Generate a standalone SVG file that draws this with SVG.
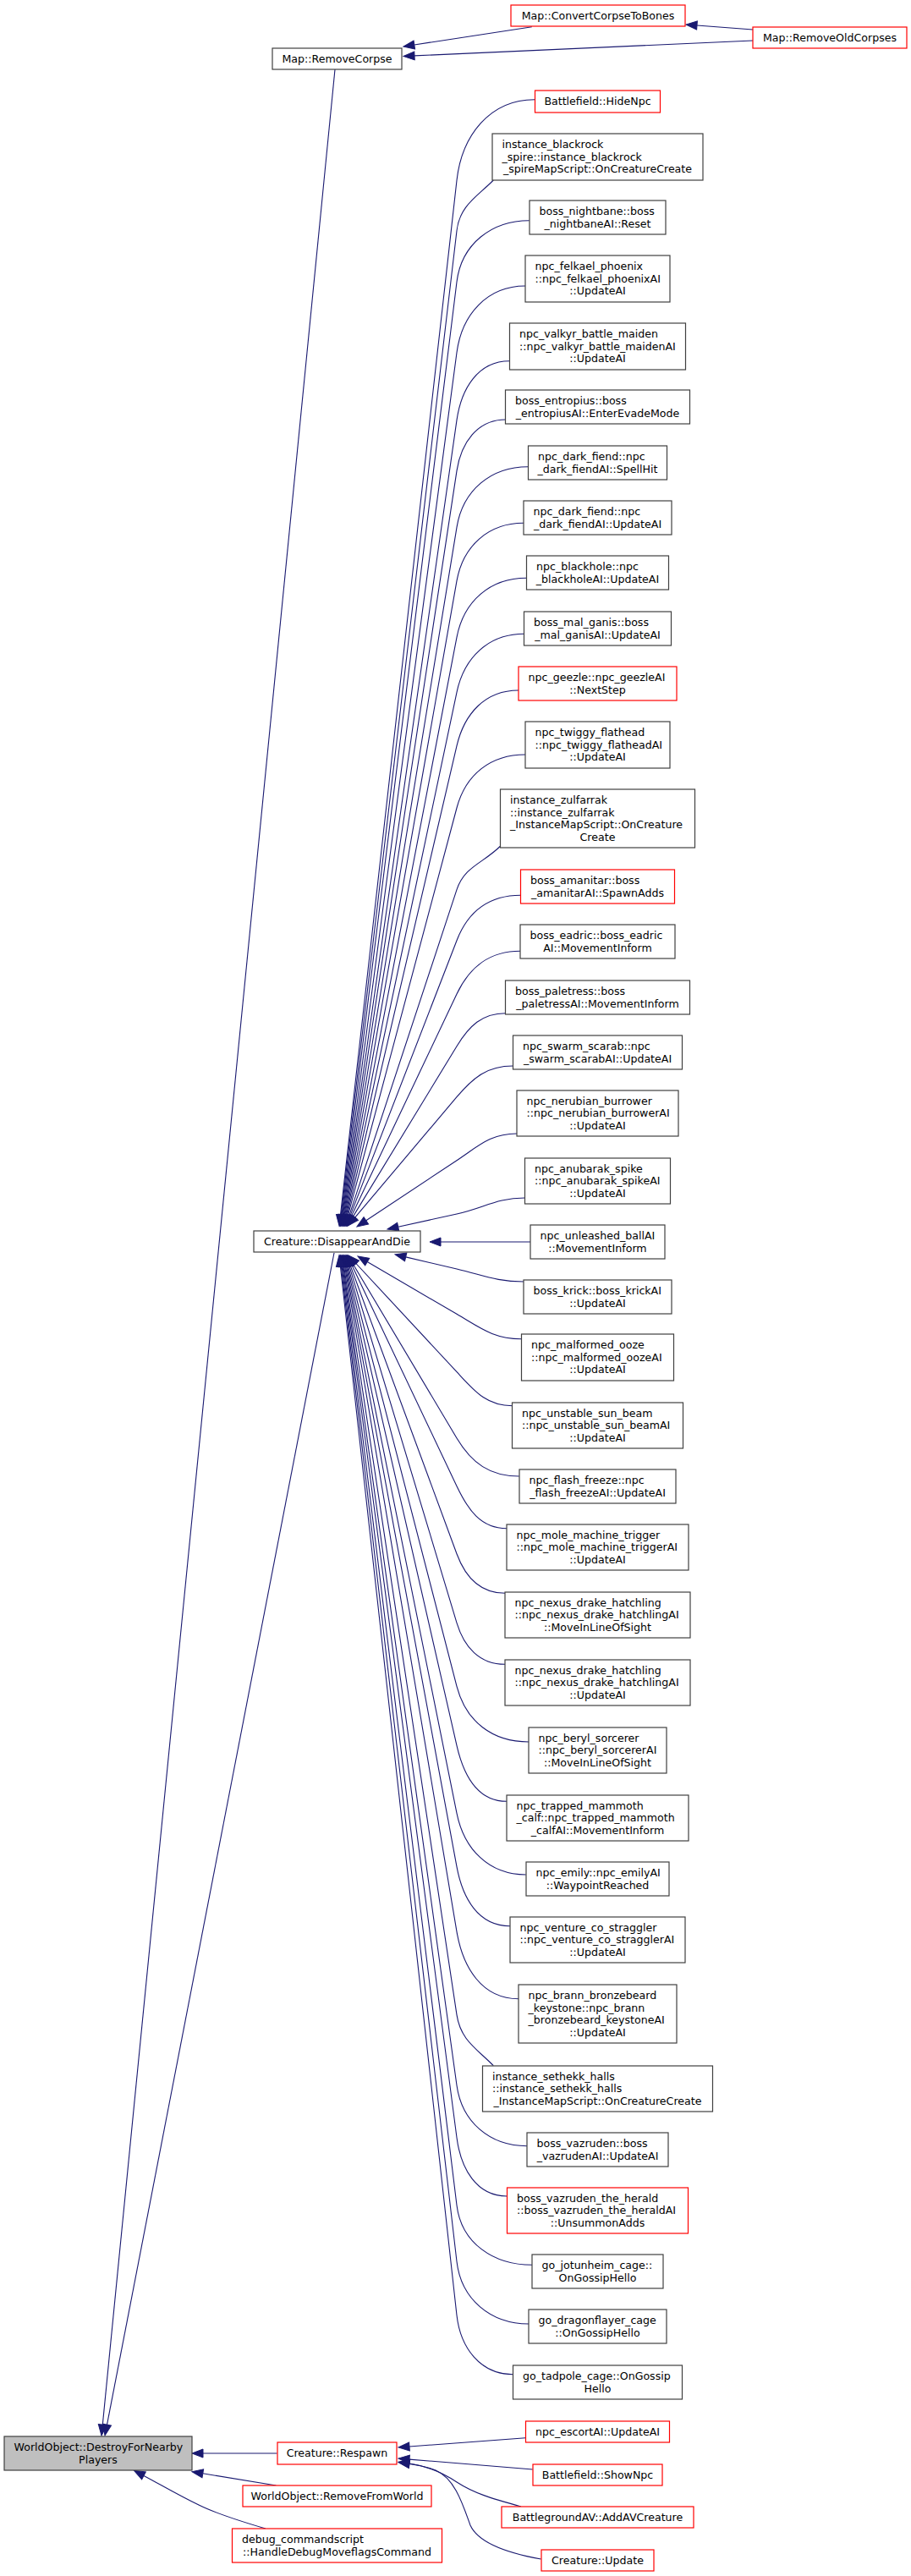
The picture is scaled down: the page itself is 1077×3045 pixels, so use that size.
<svg xmlns="http://www.w3.org/2000/svg" width="1077" height="3045" viewBox="0 0 1077 3045">
<style>
.nb{fill:#fff;stroke:#404040;stroke-width:1.2}
.nr{fill:#fff;stroke:#ff0000;stroke-width:1.2}
.ng{fill:#bfbfbf;stroke:#404040;stroke-width:1.2}
text{font-family:"DejaVu Sans",sans-serif;font-size:12.6px;fill:#000}
.c{text-anchor:middle}
#edges path{fill:none;stroke:#191970;stroke-width:1.1;marker-end:url(#ah)}
</style>
<defs>
<marker id="ah" markerWidth="13" markerHeight="10" refX="0" refY="5" orient="auto" markerUnits="userSpaceOnUse" viewBox="0 0 13 10" overflow="visible"><path d="M0,0 L13,5 L0,10 z" fill="#191970" stroke="#191970" stroke-width="1"/></marker>
</defs>
<rect x="0" y="0" width="1077" height="3045" fill="#fff"/>
<g id="edges">
<path d="M628.8,31.7 L489.8,53"/>
<path d="M890,48 L490,65.9"/>
<path d="M890,35 L824,30"/>
<path d="M396,82 L121.3,2866.1"/>
<path d="M395,1481 L126.5,2866.2"/>
<path d="M327.5,2900 L240,2900"/>
<path d="M326.4,2938 L239.8,2923.8"/>
<path d="M314,2989 C280,2979 255,2971 235,2961 C210,2949 190,2937 170,2926.4"/>
<path d="M621.3,2881.7 L484,2892"/>
<path d="M629.7,2919 L484,2907.1"/>
<path d="M616,2963 C580,2953 560,2947 540,2934 C522,2922 505,2915 484,2912"/>
<path d="M639.6,3025 C595,3017 565,3005 556,2985 C547,2960 538,2930 515,2920 C505,2916 495,2914 484,2912.5"/>
<path d="M632,117.7 C578.9,117.7 545.9,160.5 540,213.3 L402.5,1436.1"/>
<path d="M583.3,213 C562.7,233.6 543.4,243.4 540,272.7 L403.2,1436.1"/>
<path d="M625.7,260.7 C580.8,260.7 545.5,288.7 540,333.3 L404,1436.1"/>
<path d="M621,338 C575.8,338 545.9,371.9 540,416.7 L404.7,1436.1"/>
<path d="M602.3,426.7 C564.8,426.7 545.3,459.6 540,496.7 L405.4,1436.1"/>
<path d="M597.7,496 C564.2,496 545,523.6 540,556.7 L406.2,1436.1"/>
<path d="M624.3,551.7 C580.1,551.7 547.1,579.7 540,623.3 L407,1436.2"/>
<path d="M619,618.3 C577.2,618.3 547.3,645.5 540,686.7 L407.8,1436.2"/>
<path d="M622.3,683.3 C579.1,683.3 548.2,710.9 540,753.3 L408.7,1436.2"/>
<path d="M619.7,749.3 C577.5,749.3 548.7,777 540,818.3 L409.5,1436.3"/>
<path d="M613,816 C573.7,816 548.9,843.4 540,881.7 L410.5,1436.3"/>
<path d="M621,892 C580,892 550.6,915.4 540,955 L411.5,1436.4"/>
<path d="M591.7,1000 C571.3,1020.4 549.2,1024 540,1051.7 L412.9,1436.7"/>
<path d="M615.7,1058.3 C578.7,1058.3 553.4,1077.2 540,1111.7 L414.1,1436.9"/>
<path d="M615,1124.3 C578.8,1124.3 555.5,1142.3 540,1175 L415.6,1437.3"/>
<path d="M597.7,1197.7 C569.8,1197.7 554.5,1212.9 540,1236.7 L417.5,1437.9"/>
<path d="M606.3,1260 C576,1260 559.6,1273.6 540,1296.7 L419.7,1439.1"/>
<path d="M611,1340 C579.9,1340 565.9,1354.5 540,1371.7 L432.8,1442.8"/>
<path d="M620.3,1416 C587.3,1416 572.2,1427.9 540,1435 L470.7,1450.2"/>
<path d="M627,1468 L521,1468"/>
<path d="M619,1515 C586.8,1515 571.3,1507.3 540,1500 L479.7,1485.9"/>
<path d="M616.3,1582.7 C583.6,1582.7 568.2,1569.8 540,1553.3 L434.2,1491.6"/>
<path d="M605.7,1661.7 C574.9,1661.7 561,1644.3 540,1621.7 L420.9,1493.5"/>
<path d="M613.7,1745 C579.2,1745 557.7,1729.6 540,1700 L418,1495.2"/>
<path d="M599,1806.7 C568.1,1806.7 553.3,1784.6 540,1756.7 L416.1,1495.7"/>
<path d="M597.3,1883.3 C567.8,1883.3 550.2,1864.4 540,1836.7 L414.3,1496.2"/>
<path d="M597,1967.3 C566.9,1967.3 548.7,1947.1 540,1918.3 L412.9,1496.4"/>
<path d="M625,2059 C582,2059 550.8,2034.9 540,1993.3 L411.6,1496.6"/>
<path d="M599,2129.3 C563.6,2129.3 547.9,2097.8 540,2063.3 L410.5,1496.7"/>
<path d="M621.7,2216 C578,2216 548.7,2186.1 540,2143.3 L409.5,1496.7"/>
<path d="M603,2276.7 C565.3,2276.7 546.9,2243.8 540,2206.7 L408.5,1496.8"/>
<path d="M613,2362.7 C569.8,2362.7 547.2,2325.9 540,2283.3 L407.6,1496.8"/>
<path d="M583.3,2441.7 C562.4,2420.8 544.4,2411 540,2381.7 L406.6,1496.9"/>
<path d="M623,2536.7 C579.1,2536.7 546,2508.5 540,2465 L405.8,1496.9"/>
<path d="M599.3,2596 C562.8,2596 544.7,2562.9 540,2526.7 L405,1496.9"/>
<path d="M629,2677.3 C583.6,2677.3 545.5,2651.8 540,2606.7 L404.1,1496.9"/>
<path d="M625,2747 C580,2747 545.2,2718 540,2673.3 L403.3,1496.9"/>
<path d="M606.4,2806.7 C567.8,2806.7 544.3,2775.1 540,2736.7 L402.4,1496.9"/>
</g>
<g id="n_destroy"><rect class="ng" x="5" y="2880" width="222" height="40"/><text x="16.5" y="2897">WorldObject::DestroyForNearby</text><text class="c" x="116" y="2911.6">Players</text></g>
<g id="n_removecorpse"><rect class="nb" x="322" y="57" width="153" height="25"/><text class="c" x="398.5" y="73.8">Map::RemoveCorpse</text></g>
<g id="n_convert"><rect class="nr" x="604" y="6" width="206" height="25"/><text class="c" x="707" y="22.8">Map::ConvertCorpseToBones</text></g>
<g id="n_removeold"><rect class="nr" x="890" y="32" width="182" height="25"/><text class="c" x="981" y="48.8">Map::RemoveOldCorpses</text></g>
<g id="n_disappear"><rect class="nb" x="300" y="1455" width="197" height="25"/><text class="c" x="398.5" y="1471.8">Creature::DisappearAndDie</text></g>
<g id="n_respawn"><rect class="nr" x="328" y="2887" width="141" height="26"/><text class="c" x="398.5" y="2904.3">Creature::Respawn</text></g>
<g id="n_removefromworld"><rect class="nr" x="287" y="2938" width="223" height="25"/><text class="c" x="398.5" y="2954.8">WorldObject::RemoveFromWorld</text></g>
<g id="n_debug"><rect class="nr" x="274.5" y="2989" width="248" height="40"/><text x="286" y="3006">debug_commandscript</text><text class="c" x="398.5" y="3020.6">::HandleDebugMoveflagsCommand</text></g>
<g id="n_hidenpc"><rect class="nr" x="632.5" y="107" width="148" height="26"/><text class="c" x="706.5" y="124.3">Battlefield::HideNpc</text></g>
<g id="n_blackrock"><rect class="nb" x="582" y="158" width="249" height="55"/><text x="593.5" y="175.2">instance_blackrock</text><text x="593.5" y="189.8">_spire::instance_blackrock</text><text class="c" x="706.5" y="204.4">_spireMapScript::OnCreatureCreate</text></g>
<g id="n_nightbane"><rect class="nb" x="626" y="237" width="161" height="40"/><text x="637.5" y="254">boss_nightbane::boss</text><text class="c" x="706.5" y="268.6">_nightbaneAI::Reset</text></g>
<g id="n_felkael"><rect class="nb" x="621" y="302" width="171" height="55"/><text x="632.5" y="319.2">npc_felkael_phoenix</text><text x="632.5" y="333.8">::npc_felkael_phoenixAI</text><text class="c" x="706.5" y="348.4">::UpdateAI</text></g>
<g id="n_valkyr"><rect class="nb" x="602.5" y="382" width="208" height="55"/><text x="614" y="399.2">npc_valkyr_battle_maiden</text><text x="614" y="413.8">::npc_valkyr_battle_maidenAI</text><text class="c" x="706.5" y="428.4">::UpdateAI</text></g>
<g id="n_entropius"><rect class="nb" x="597.5" y="461" width="218" height="40"/><text x="609" y="478">boss_entropius::boss</text><text class="c" x="706.5" y="492.6">_entropiusAI::EnterEvadeMode</text></g>
<g id="n_darkfiend_spellhit"><rect class="nb" x="624.5" y="527" width="164" height="40"/><text x="636" y="544">npc_dark_fiend::npc</text><text class="c" x="706.5" y="558.6">_dark_fiendAI::SpellHit</text></g>
<g id="n_darkfiend_update"><rect class="nb" x="619" y="592" width="175" height="40"/><text x="630.5" y="609">npc_dark_fiend::npc</text><text class="c" x="706.5" y="623.6">_dark_fiendAI::UpdateAI</text></g>
<g id="n_blackhole"><rect class="nb" x="622.5" y="657" width="168" height="40"/><text x="634" y="674">npc_blackhole::npc</text><text class="c" x="706.5" y="688.6">_blackholeAI::UpdateAI</text></g>
<g id="n_malganis"><rect class="nb" x="619.5" y="723" width="174" height="40"/><text x="631" y="740">boss_mal_ganis::boss</text><text class="c" x="706.5" y="754.6">_mal_ganisAI::UpdateAI</text></g>
<g id="n_geezle"><rect class="nr" x="613" y="788" width="187" height="40"/><text x="624.5" y="805">npc_geezle::npc_geezleAI</text><text class="c" x="706.5" y="819.6">::NextStep</text></g>
<g id="n_twiggy"><rect class="nb" x="621" y="853" width="171" height="55"/><text x="632.5" y="870.2">npc_twiggy_flathead</text><text x="632.5" y="884.8">::npc_twiggy_flatheadAI</text><text class="c" x="706.5" y="899.4">::UpdateAI</text></g>
<g id="n_zulfarrak"><rect class="nb" x="591.5" y="933" width="230" height="69"/><text x="603" y="949.9">instance_zulfarrak</text><text x="603" y="964.5">::instance_zulfarrak</text><text x="603" y="979.1">_InstanceMapScript::OnCreature</text><text class="c" x="706.5" y="993.7">Create</text></g>
<g id="n_amanitar"><rect class="nr" x="615.5" y="1028" width="182" height="40"/><text x="627" y="1045">boss_amanitar::boss</text><text class="c" x="706.5" y="1059.6">_amanitarAI::SpawnAdds</text></g>
<g id="n_eadric"><rect class="nb" x="615" y="1093" width="183" height="40"/><text x="626.5" y="1110">boss_eadric::boss_eadric</text><text class="c" x="706.5" y="1124.6">AI::MovementInform</text></g>
<g id="n_paletress"><rect class="nb" x="597.5" y="1159" width="218" height="40"/><text x="609" y="1176">boss_paletress::boss</text><text class="c" x="706.5" y="1190.6">_paletressAI::MovementInform</text></g>
<g id="n_swarm"><rect class="nb" x="606.5" y="1224" width="200" height="40"/><text x="618" y="1241">npc_swarm_scarab::npc</text><text class="c" x="706.5" y="1255.6">_swarm_scarabAI::UpdateAI</text></g>
<g id="n_nerubian"><rect class="nb" x="611" y="1289" width="191" height="54"/><text x="622.5" y="1305.7">npc_nerubian_burrower</text><text x="622.5" y="1320.3">::npc_nerubian_burrowerAI</text><text class="c" x="706.5" y="1334.9">::UpdateAI</text></g>
<g id="n_anubarak"><rect class="nb" x="620.5" y="1369" width="172" height="54"/><text x="632" y="1385.7">npc_anubarak_spike</text><text x="632" y="1400.3">::npc_anubarak_spikeAI</text><text class="c" x="706.5" y="1414.9">::UpdateAI</text></g>
<g id="n_unleashed"><rect class="nb" x="627" y="1448" width="159" height="40"/><text x="638.5" y="1465">npc_unleashed_ballAI</text><text class="c" x="706.5" y="1479.6">::MovementInform</text></g>
<g id="n_krick"><rect class="nb" x="619" y="1513" width="175" height="40"/><text x="630.5" y="1530">boss_krick::boss_krickAI</text><text class="c" x="706.5" y="1544.6">::UpdateAI</text></g>
<g id="n_malformed"><rect class="nb" x="616.5" y="1577" width="180" height="55"/><text x="628" y="1594.2">npc_malformed_ooze</text><text x="628" y="1608.8">::npc_malformed_oozeAI</text><text class="c" x="706.5" y="1623.4">::UpdateAI</text></g>
<g id="n_sunbeam"><rect class="nb" x="605.5" y="1658" width="202" height="54"/><text x="617" y="1674.7">npc_unstable_sun_beam</text><text x="617" y="1689.3">::npc_unstable_sun_beamAI</text><text class="c" x="706.5" y="1703.9">::UpdateAI</text></g>
<g id="n_flash"><rect class="nb" x="614" y="1737" width="185" height="40"/><text x="625.5" y="1754">npc_flash_freeze::npc</text><text class="c" x="706.5" y="1768.6">_flash_freezeAI::UpdateAI</text></g>
<g id="n_mole"><rect class="nb" x="599" y="1802" width="215" height="54"/><text x="610.5" y="1818.7">npc_mole_machine_trigger</text><text x="610.5" y="1833.3">::npc_mole_machine_triggerAI</text><text class="c" x="706.5" y="1847.9">::UpdateAI</text></g>
<g id="n_nexus_los"><rect class="nb" x="597" y="1882" width="219" height="54"/><text x="608.5" y="1898.7">npc_nexus_drake_hatchling</text><text x="608.5" y="1913.3">::npc_nexus_drake_hatchlingAI</text><text class="c" x="706.5" y="1927.9">::MoveInLineOfSight</text></g>
<g id="n_nexus_update"><rect class="nb" x="597" y="1962" width="219" height="54"/><text x="608.5" y="1978.7">npc_nexus_drake_hatchling</text><text x="608.5" y="1993.3">::npc_nexus_drake_hatchlingAI</text><text class="c" x="706.5" y="2007.9">::UpdateAI</text></g>
<g id="n_beryl"><rect class="nb" x="625" y="2042" width="163" height="54"/><text x="636.5" y="2058.7">npc_beryl_sorcerer</text><text x="636.5" y="2073.3">::npc_beryl_sorcererAI</text><text class="c" x="706.5" y="2087.9">::MoveInLineOfSight</text></g>
<g id="n_trapped"><rect class="nb" x="599" y="2122" width="215" height="54"/><text x="610.5" y="2138.7">npc_trapped_mammoth</text><text x="610.5" y="2153.3">_calf::npc_trapped_mammoth</text><text class="c" x="706.5" y="2167.9">_calfAI::MovementInform</text></g>
<g id="n_emily"><rect class="nb" x="622" y="2201" width="169" height="40"/><text x="633.5" y="2218">npc_emily::npc_emilyAI</text><text class="c" x="706.5" y="2232.6">::WaypointReached</text></g>
<g id="n_venture"><rect class="nb" x="603" y="2266" width="207" height="54"/><text x="614.5" y="2282.7">npc_venture_co_straggler</text><text x="614.5" y="2297.3">::npc_venture_co_stragglerAI</text><text class="c" x="706.5" y="2311.9">::UpdateAI</text></g>
<g id="n_brann"><rect class="nb" x="613" y="2346" width="187" height="69"/><text x="624.5" y="2362.9">npc_brann_bronzebeard</text><text x="624.5" y="2377.5">_keystone::npc_brann</text><text x="624.5" y="2392.1">_bronzebeard_keystoneAI</text><text class="c" x="706.5" y="2406.7">::UpdateAI</text></g>
<g id="n_sethekk"><rect class="nb" x="570.5" y="2442" width="272" height="54"/><text x="582" y="2458.7">instance_sethekk_halls</text><text x="582" y="2473.3">::instance_sethekk_halls</text><text class="c" x="706.5" y="2487.9">_InstanceMapScript::OnCreatureCreate</text></g>
<g id="n_vazruden"><rect class="nb" x="623" y="2521" width="167" height="40"/><text x="634.5" y="2538">boss_vazruden::boss</text><text class="c" x="706.5" y="2552.6">_vazrudenAI::UpdateAI</text></g>
<g id="n_herald"><rect class="nr" x="599.5" y="2586" width="214" height="54"/><text x="611" y="2602.7">boss_vazruden_the_herald</text><text x="611" y="2617.3">::boss_vazruden_the_heraldAI</text><text class="c" x="706.5" y="2631.9">::UnsummonAdds</text></g>
<g id="n_jotunheim"><rect class="nb" x="629" y="2665" width="155" height="40"/><text x="640.5" y="2682">go_jotunheim_cage::</text><text class="c" x="706.5" y="2696.6">OnGossipHello</text></g>
<g id="n_dragonflayer"><rect class="nb" x="625" y="2730" width="163" height="40"/><text x="636.5" y="2747">go_dragonflayer_cage</text><text class="c" x="706.5" y="2761.6">::OnGossipHello</text></g>
<g id="n_tadpole"><rect class="nb" x="606.5" y="2796" width="200" height="40"/><text x="618" y="2813">go_tadpole_cage::OnGossip</text><text class="c" x="706.5" y="2827.6">Hello</text></g>
<g id="n_escort"><rect class="nr" x="621.5" y="2862" width="170" height="25"/><text class="c" x="706.5" y="2878.8">npc_escortAI::UpdateAI</text></g>
<g id="n_shownpc"><rect class="nr" x="630" y="2913" width="153" height="25"/><text class="c" x="706.5" y="2929.8">Battlefield::ShowNpc</text></g>
<g id="n_addav"><rect class="nr" x="593" y="2963" width="227" height="25"/><text class="c" x="706.5" y="2979.8">BattlegroundAV::AddAVCreature</text></g>
<g id="n_update"><rect class="nr" x="640" y="3014" width="133" height="25"/><text class="c" x="706.5" y="3030.8">Creature::Update</text></g>
</svg>
